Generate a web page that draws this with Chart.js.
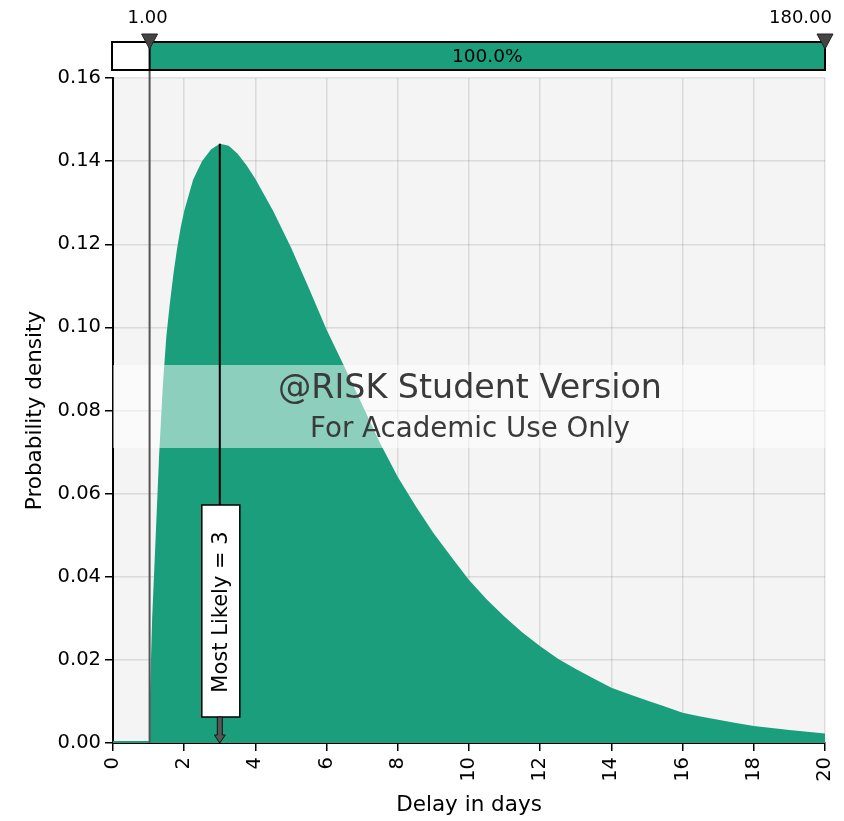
<!DOCTYPE html>
<html>
<head>
<meta charset="utf-8">
<script src="https://cdn.jsdelivr.net/npm/chart.js@4.4.1/dist/chart.umd.min.js"></script>
<style>
  html, body { margin: 0; padding: 0; background: #fff; }
  #wrap { width: 844px; height: 821px; }
</style>
</head>
<body>
<div id="wrap"><canvas id="densityChart"></canvas></div>
<script>
// values
const delayDays = [0, 1.03, 1.04, 1.1, 1.2, 1.3, 1.4, 1.5, 1.6, 1.7, 1.8, 1.9, 2.0, 2.25, 2.5, 2.75, 3.0, 3.25, 3.5, 3.75, 4.0, 4.5, 5.0, 5.5, 6.0, 6.5, 7.0, 7.5, 8.0, 8.5, 9.0, 9.5, 10.0, 10.5, 11.0, 11.5, 12.0, 12.5, 13.0, 13.5, 14.0, 14.5, 15.0, 15.5, 16.0, 16.5, 17.0, 17.5, 18.0, 18.5, 19.0, 19.5, 20.0];
const density = [0.0005, 0.0005, 0.012, 0.030, 0.050, 0.070, 0.086, 0.098, 0.106, 0.113, 0.119, 0.124, 0.128, 0.1355, 0.1400, 0.1428, 0.1442, 0.1437, 0.1418, 0.1390, 0.1357, 0.1280, 0.1192, 0.1095, 0.0994, 0.0905, 0.0814, 0.0722, 0.0640, 0.0570, 0.0505, 0.0448, 0.0392, 0.0345, 0.0304, 0.0266, 0.0233, 0.0203, 0.0178, 0.0155, 0.0133, 0.0117, 0.0102, 0.0088, 0.0073, 0.0064, 0.0056, 0.0048, 0.0041, 0.0036, 0.0031, 0.0027, 0.0023];
const yTicks = [0, 0.02, 0.04, 0.06, 0.08, 0.10, 0.12, 0.14, 0.16];
const xTicks = [0, 2, 4, 6, 8, 10, 12, 14, 16, 18, 20];
const leftMark = 1.00;
const rightMark = 180.00;
const barLabel = "100.0%";
const mostLikely = 3;

const green = "#1a9e7b";
const font = "DejaVu Sans";

const points = delayDays.map((d, i) => ({ x: d, y: density[i] }));

// grey plot background
const background = {
  id: "background",
  beforeDraw(chart) {
    const { ctx, chartArea: a } = chart;
    ctx.save();
    ctx.fillStyle = "#f4f4f4";
    ctx.fillRect(a.left, a.top, a.right - a.left, a.bottom - a.top);
    ctx.restore();
  },
};

function fitFont(ctx, text, width) {
  ctx.font = "10px '" + font + "'";
  return (10 * width) / ctx.measureText(text).width;
}

const overlays = {
  id: "overlays",
  afterDraw(chart) {
    const { ctx, chartArea: a, scales } = chart;
    const xs = scales.x;
    const ys = scales.y;
    ctx.save();

    // watermark band
    ctx.fillStyle = "rgba(255,255,255,0.5)";
    ctx.fillRect(a.left, 365, a.right - a.left, 83);
    ctx.fillStyle = "#3a3a3a";
    ctx.textAlign = "center";
    ctx.textBaseline = "middle";
    const cx = (a.left + a.right) / 2;
    ctx.font = fitFont(ctx, "@RISK Student Version", 384) + "px '" + font + "'";
    ctx.fillText("@RISK Student Version", cx + 1, 389);
    ctx.font = fitFont(ctx, "For Academic Use Only", 320) + "px '" + font + "'";
    ctx.fillText("For Academic Use Only", cx + 1, 430);

    // vertical line at left delimiter
    const xl = xs.getPixelForValue(leftMark) + 1;
    ctx.strokeStyle = "#555";
    ctx.lineWidth = 2;
    ctx.beginPath();
    ctx.moveTo(xl, 42);
    ctx.lineTo(xl, a.bottom);
    ctx.stroke();

    // most likely marker
    const xm = xs.getPixelForValue(mostLikely);
    const yPeak = ys.getPixelForValue(density[delayDays.indexOf(mostLikely)]);
    const boxTop = 505, boxBottom = 717, boxW = 38;
    ctx.strokeStyle = "#000";
    ctx.lineWidth = 2;
    ctx.beginPath();
    ctx.moveTo(xm, yPeak);
    ctx.lineTo(xm, boxTop);
    ctx.stroke();
    ctx.fillStyle = "#fff";
    ctx.fillRect(xm - boxW / 2 + 1, boxTop, boxW, boxBottom - boxTop);
    ctx.lineWidth = 1.5;
    ctx.strokeRect(xm - boxW / 2 + 1, boxTop, boxW, boxBottom - boxTop);
    ctx.save();
    ctx.translate(xm + 2, (boxTop + boxBottom) / 2 + 1);
    ctx.rotate(-Math.PI / 2);
    ctx.fillStyle = "#000";
    ctx.font = "21px '" + font + "'";
    ctx.textAlign = "center";
    ctx.textBaseline = "middle";
    ctx.fillText("Most Likely = " + mostLikely, 0, 0);
    ctx.restore();
    // arrow
    ctx.fillStyle = "#555";
    ctx.strokeStyle = "#111";
    ctx.lineWidth = 1;
    ctx.beginPath();
    ctx.moveTo(xm - 2.5, boxBottom);
    ctx.lineTo(xm + 2.5, boxBottom);
    ctx.lineTo(xm + 2.5, a.bottom - 8);
    ctx.lineTo(xm + 5.5, a.bottom - 8);
    ctx.lineTo(xm, a.bottom);
    ctx.lineTo(xm - 5.5, a.bottom - 8);
    ctx.lineTo(xm - 2.5, a.bottom - 8);
    ctx.closePath();
    ctx.fill();
    ctx.stroke();

    // top delimiter bar
    const barTop = 42, barH = 28;
    const xr = a.right;
    ctx.fillStyle = "#fff";
    ctx.fillRect(a.left - 1, barTop, xl - a.left + 1, barH);
    ctx.fillStyle = green;
    ctx.fillRect(xl, barTop, xr - xl, barH);
    ctx.strokeStyle = "#000";
    ctx.lineWidth = 2;
    ctx.strokeRect(a.left - 1, barTop, xr - a.left + 1, barH);
    ctx.beginPath();
    ctx.moveTo(xl, barTop);
    ctx.lineTo(xl, barTop + barH);
    ctx.stroke();
    ctx.fillStyle = "#000";
    ctx.font = "18.5px '" + font + "'";
    ctx.textAlign = "center";
    ctx.textBaseline = "middle";
    ctx.fillText(barLabel, (xl + xr) / 2, barTop + barH / 2 + 1);

    // triangles and labels
    [xl, xr].forEach((px) => {
      ctx.fillStyle = "#444";
      ctx.strokeStyle = "#222";
      ctx.lineWidth = 1;
      ctx.beginPath();
      ctx.moveTo(px - 8, 34);
      ctx.lineTo(px + 8, 34);
      ctx.lineTo(px, 49);
      ctx.closePath();
      ctx.fill();
      ctx.stroke();
    });
    ctx.fillStyle = "#000";
    ctx.font = "18px '" + font + "'";
    ctx.textBaseline = "middle";
    ctx.textAlign = "center";
    ctx.fillText(leftMark.toFixed(2), xl - 2, 18);
    ctx.textAlign = "right";
    ctx.fillText(rightMark.toFixed(2), 832, 18);

    ctx.restore();
  },
};

new Chart(document.getElementById("densityChart"), {
  type: "line",
  data: {
    datasets: [
      {
        data: points,
        fill: "origin",
        backgroundColor: green,
        borderWidth: 0,
        pointRadius: 0,
        tension: 0,
      },
    ],
  },
  options: {
    responsive: true,
    maintainAspectRatio: false,
    animation: false,
    layout: { padding: { left: 19, right: 19, top: 78, bottom: 0 } },
    scales: {
      x: {
        type: "linear",
        min: 0,
        max: 20,
        z: 1,
        afterBuildTicks: (s) => { s.ticks = xTicks.map((v) => ({ value: v })); },
        afterFit: (s) => {
          s.height = 78;
          s.paddingLeft = 0;
          s.paddingRight = 0;
        },
        ticks: {
          color: "#000",
          font: { family: font, size: 19.5 },
          minRotation: 90,
          maxRotation: 90,
          padding: 6,
          autoSkip: false,
        },
        grid: { color: "rgba(0,0,0,0.1)", lineWidth: 1.5, tickColor: "#000", tickLength: 8 },
        border: { color: "#000", width: 2 },
        title: {
          display: true,
          text: "Delay in days",
          color: "#000",
          font: { family: font, size: 21.5 },
          padding: { top: 4, bottom: 3 },
        },
      },
      y: {
        min: 0,
        max: 0.16,
        z: 1,
        afterBuildTicks: (s) => { s.ticks = yTicks.map((v) => ({ value: v })); },
        afterFit: (s) => {
          s.width = 94;
          s.paddingTop = 0;
          s.paddingBottom = 0;
        },
        ticks: {
          color: "#000",
          font: { family: font, size: 19.5 },
          padding: 4,
          callback: (v) => v.toFixed(2),
        },
        grid: { color: "rgba(0,0,0,0.1)", lineWidth: 1.5, tickColor: "#000", tickLength: 8 },
        border: { color: "#000", width: 2 },
        title: {
          display: true,
          text: "Probability density",
          color: "#000",
          font: { family: font, size: 21.5 },
          padding: { top: 4, bottom: 4 },
        },
      },
    },
    plugins: {
      legend: { display: false },
      tooltip: { enabled: false },
    },
  },
  plugins: [background, overlays],
});
</script>
</body>
</html>
